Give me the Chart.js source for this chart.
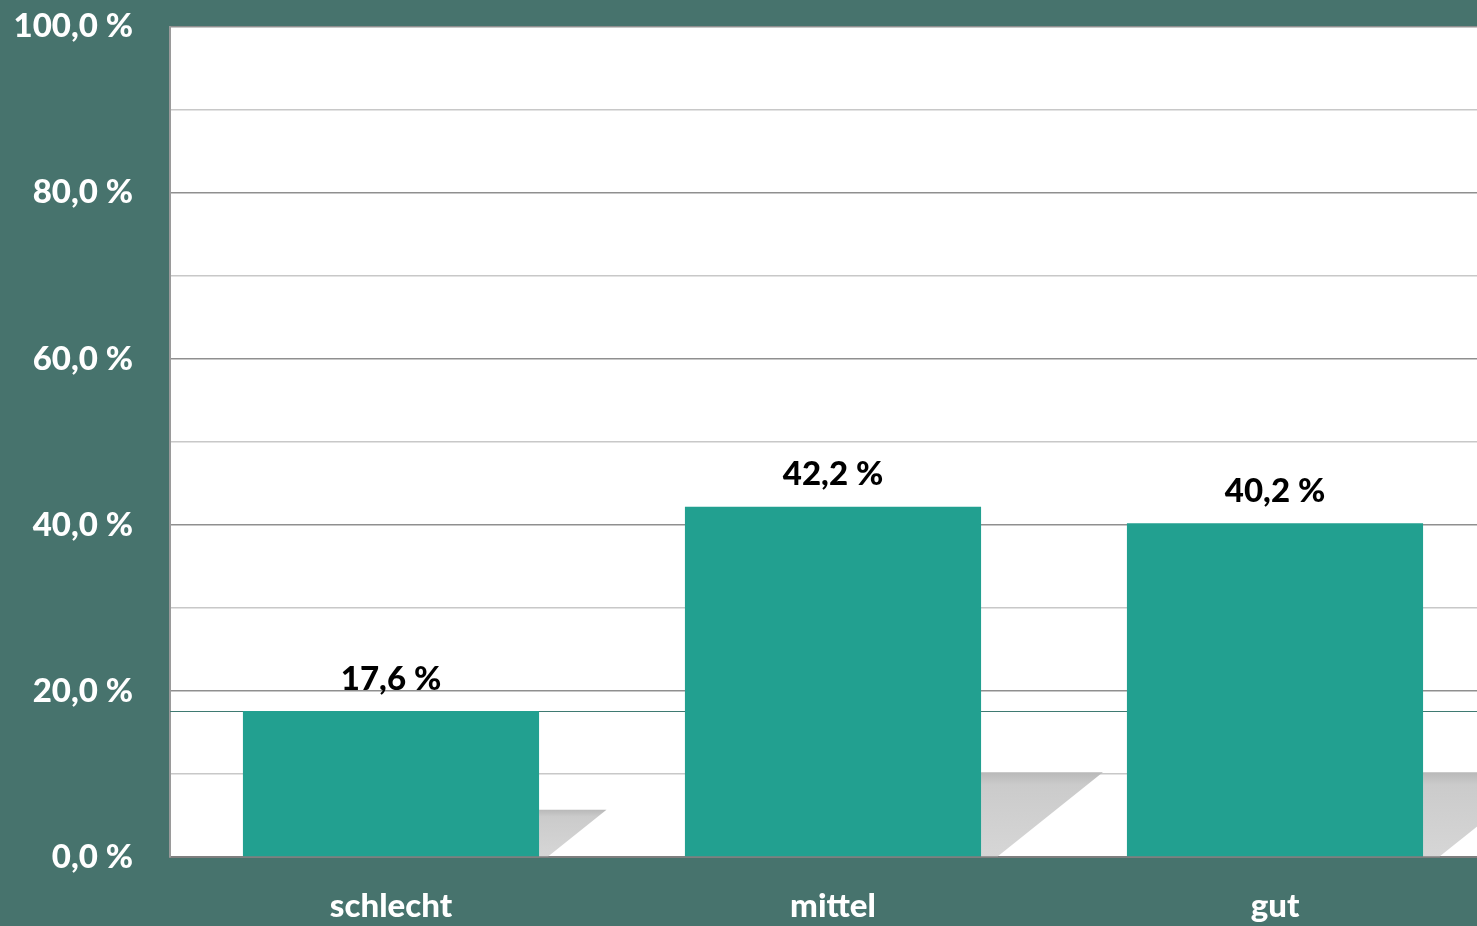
<!DOCTYPE html>
<html lang="de">
<head>
<meta charset="utf-8">
<title>Bewertung</title>
<script src="https://cdn.jsdelivr.net/npm/chart.js@4.4.1/dist/chart.umd.min.js"></script>
<style>
  html, body { margin: 0; padding: 0; overflow: hidden; background: #47736d; }
  .wrap { position: relative; width: 1500px; height: 956px; margin-top: -30px; }
</style>
</head>
<body>
<div class="wrap"><canvas id="chart"></canvas></div>
<script>
const categories = ["schlecht", "mittel", "gut"];
const shares = [17.6, 42.2, 40.2];
const yTicks = [0, 10, 20, 30, 40, 50, 60, 70, 80, 90, 100];

const FONT = "Lato, 'Open Sans', sans-serif";
const fmt = (v) => v.toFixed(1).replace(".", ",") + " %";

// white plot area behind the bars
const plotBackground = {
  id: "plotBackground",
  beforeDraw(chart) {
    const { ctx, chartArea: a } = chart;
    ctx.save();
    ctx.fillStyle = "#ffffff";
    ctx.fillRect(a.left, a.top, a.right - a.left, a.bottom - a.top);
    ctx.restore();
  },
};

// soft grey floor shadows to the right of each bar, plus the thin line at the first bar's top
const barShadows = {
  id: "barShadows",
  beforeDatasetsDraw(chart) {
    const { ctx, chartArea: a } = chart;
    const meta = chart.getDatasetMeta(0);
    ctx.save();
    meta.data.forEach((bar) => {
      const right = bar.x + bar.width / 2;
      const depth = Math.min(84, (bar.base - bar.y) * 0.32);
      const top = bar.base - depth;
      const g = ctx.createLinearGradient(0, top, 0, bar.base);
      g.addColorStop(0, "#b8b8b8");
      g.addColorStop(0.15, "#cbcbcb");
      g.addColorStop(1, "#d6d6d6");
      ctx.fillStyle = g;
      ctx.beginPath();
      ctx.moveTo(right, top);
      ctx.lineTo(right + depth * 1.45, top);
      ctx.lineTo(right + depth * 0.2, bar.base);
      ctx.lineTo(right, bar.base);
      ctx.closePath();
      ctx.fill();
    });
    const y0 = Math.round(meta.data[0].y) + 0.5;
    ctx.strokeStyle = "#3f7a72";
    ctx.lineWidth = 1;
    ctx.beginPath();
    ctx.moveTo(a.left, y0);
    ctx.lineTo(a.right, y0);
    ctx.stroke();
    ctx.restore();
  },
};

const valueLabels = {
  id: "valueLabels",
  afterDatasetsDraw(chart) {
    const ctx = chart.ctx;
    const meta = chart.getDatasetMeta(0);
    ctx.save();
    ctx.font = "900 33px " + FONT;
    ctx.fillStyle = "#000000";
    ctx.textAlign = "center";
    ctx.textBaseline = "middle";
    meta.data.forEach((bar, i) => {
      ctx.fillText(fmt(shares[i]), bar.x, bar.y - 32);
    });
    ctx.restore();
  },
};

new Chart(document.getElementById("chart"), {
  type: "bar",
  data: {
    labels: categories,
    datasets: [{
      data: shares,
      backgroundColor: "#22a090",
      borderWidth: 0,
      barPercentage: 0.67,
      categoryPercentage: 1,
    }],
  },
  plugins: [plotBackground, barShadows, valueLabels],
  options: {
    responsive: true,
    maintainAspectRatio: false,
    animation: false,
    layout: { padding: { top: 25, right: 4, left: 0, bottom: 0 } },
    plugins: { legend: { display: false }, tooltip: { enabled: false } },
    scales: {
      x: {
        grid: { display: false, drawTicks: false },
        border: { display: true, color: "#7f7f7f", width: 2 },
        ticks: { color: "#ffffff", font: { family: FONT, size: 33, weight: "900" }, padding: 30 },
        afterFit(scale) { scale.height = 69; },
      },
      y: {
        min: 0,
        max: 100,
        afterBuildTicks(scale) { scale.ticks = yTicks.map((v) => ({ value: v })); },
        grid: {
          drawTicks: false,
          color: (c) => (c.tick && c.tick.value % 20 === 0 ? "#8f8f8f" : "#c8c8c8"),
          lineWidth: 1.5,
        },
        border: { display: true, color: "#9a9a9a", width: 2 },
        ticks: {
          color: "#ffffff",
          font: { family: FONT, size: 33, weight: "900" },
          padding: 37,
          callback(value) { return value % 20 === 0 ? fmt(value) : ""; },
        },
        afterFit(scale) { scale.width = 170; },
      },
    },
  },
});
</script>
</body>
</html>
